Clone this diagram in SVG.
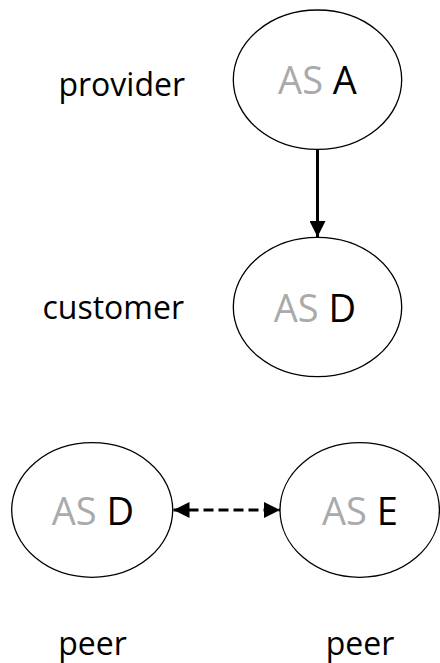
<svg xmlns="http://www.w3.org/2000/svg" width="440" height="663" viewBox="0 0 440 663">
<style>
.node ellipse{fill:#fff;stroke:#000;stroke-width:1.3}
.as{font-family:"Open Sans","DejaVu Sans",sans-serif;font-size:38px;text-anchor:middle}
.g{fill:#aaaaaa}
.k{fill:#000}
.lbl{font-family:"Open Sans","DejaVu Sans",sans-serif;font-size:32px;fill:#000}
.edge{stroke:#000;stroke-width:3;fill:none}
</style>
<defs>
<marker id="ah" viewBox="0 0 16 16" refX="16" refY="8" markerWidth="16" markerHeight="16" markerUnits="userSpaceOnUse" orient="auto-start-reverse">
<path d="M0,0 L16,8 L0,16 Z" fill="#000"/>
</marker>
</defs>
<g id="connectors">
<line class="edge" x1="317.5" y1="150" x2="317.5" y2="237" marker-end="url(#ah)"/>
<line class="edge" x1="173.5" y1="510" x2="280" y2="510" stroke-dasharray="10 5" marker-start="url(#ah)" marker-end="url(#ah)"/>
</g>
<g id="nodeA" class="node">
<ellipse cx="317.5" cy="79.7" rx="84.2" ry="69.7"/>
<text class="as" x="317.5" y="93.5"><tspan class="g">AS </tspan><tspan class="k">A</tspan></text>
</g>
<g id="nodeD1" class="node">
<ellipse cx="317.5" cy="307" rx="84.2" ry="69.7"/>
<text class="as" x="315" y="321.5"><tspan class="g">AS </tspan><tspan class="k">D</tspan></text>
</g>
<g id="nodeD2" class="node">
<ellipse cx="92.2" cy="510" rx="80.5" ry="67.3"/>
<text class="as" x="93" y="525"><tspan class="g">AS </tspan><tspan class="k">D</tspan></text>
</g>
<g id="nodeE" class="node">
<ellipse cx="359.7" cy="510" rx="79.7" ry="67.3"/>
<text class="as" x="360" y="525"><tspan class="g">AS </tspan><tspan class="k">E</tspan></text>
</g>
<g id="labels">
<text class="lbl" x="185" y="96" text-anchor="end">provider</text>
<text class="lbl" x="184" y="319" text-anchor="end">customer</text>
<text class="lbl" x="92.5" y="655" text-anchor="middle" font-size="31">peer</text>
<text class="lbl" x="360" y="655" text-anchor="middle" font-size="31">peer</text>
</g>
</svg>
